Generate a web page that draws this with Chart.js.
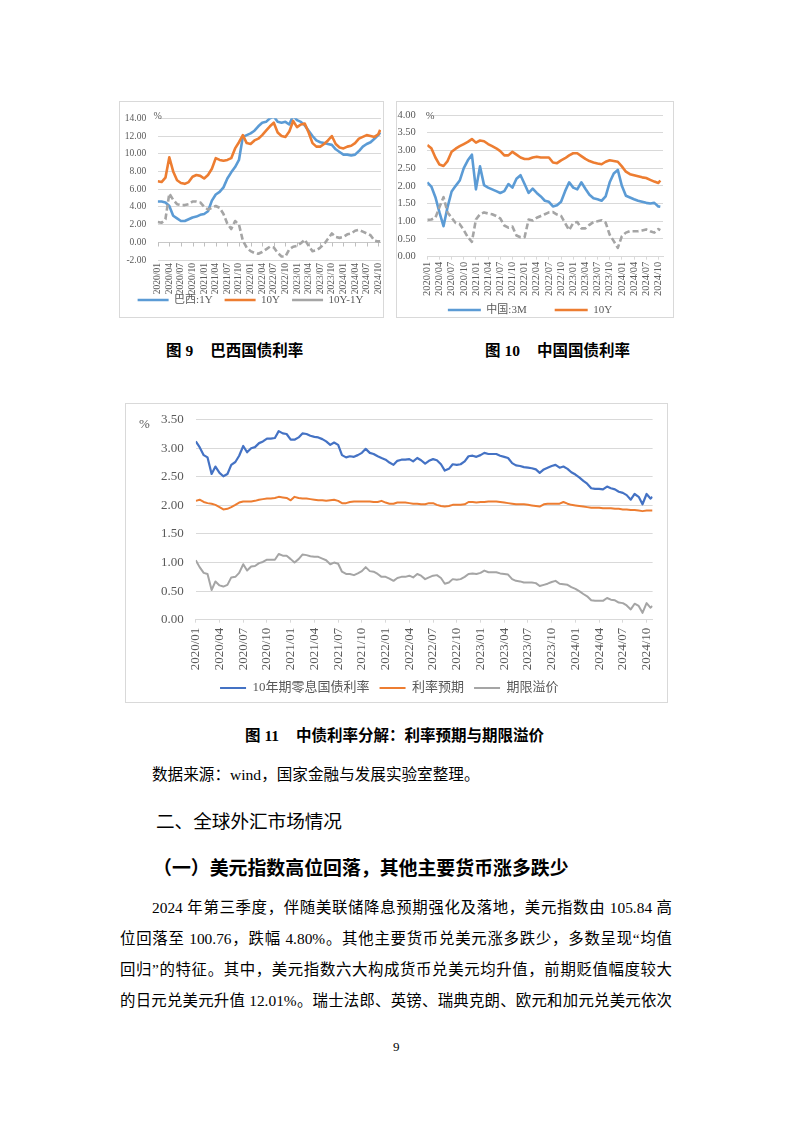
<!DOCTYPE html>
<html lang="zh-CN">
<head>
<meta charset="utf-8">
<title>国债利率</title>
<script src="https://cdn.jsdelivr.net/npm/chart.js@4.4.1/dist/chart.umd.min.js"></script>
<style>
  body { margin: 0; background: #fff; }
  .page { position: relative; width: 794px; height: 1123px; overflow: hidden;
          font-family: 'Liberation Serif', 'Noto Sans CJK SC', serif; color: #000; }
  .frame { position: absolute; border: 1px solid #d9d9d9; box-sizing: border-box; background: #fff; }
  .frame canvas { display: block; }
  .cap { position: absolute; font-weight: bold; font-size: 15.5px; line-height: 20px; white-space: nowrap; }
  .cap span { margin-left: 17px; }
  .txt { position: absolute; white-space: nowrap; }
  .line { position: absolute; left: 120px; width: 552px; font-size: 15.4px; line-height: 20px;
          text-align: justify; text-align-last: justify; }
</style>
</head>
<body>
<div class="page">

  <div class="frame" style="left:119px;top:101px;width:265px;height:217px;">
    <canvas id="chart9" width="263" height="215"></canvas>
  </div>
  <div class="frame" style="left:396px;top:101px;width:278px;height:217px;">
    <canvas id="chart10" width="276" height="215"></canvas>
  </div>

  <div class="cap" style="left:166px;top:341px;">图 9<span>巴西国债利率</span></div>
  <div class="cap" style="left:485px;top:341px;">图 10<span>中国国债利率</span></div>

  <div class="frame" style="left:125px;top:403px;width:543px;height:300px;">
    <canvas id="chart11" width="541" height="298"></canvas>
  </div>

  <div class="cap" style="left:245px;top:726px;">图 11<span>中债利率分解：利率预期与期限溢价</span></div>

  <div class="txt" style="left:152px;top:765px;font-size:15.6px;line-height:20px;">数据来源：wind，国家金融与发展实验室整理。</div>
  <div class="txt" style="left:156px;top:808px;font-size:18.6px;line-height:24px;font-family:'Noto Sans CJK SC',sans-serif;">二、全球外汇市场情况</div>
  <div class="txt" style="left:153px;top:855px;font-size:18.9px;line-height:24px;font-weight:bold;font-family:'Noto Sans CJK SC',sans-serif;">（一）美元指数高位回落，其他主要货币涨多跌少</div>

  <div class="line" style="top:898px;text-indent:32px;">2024 年第三季度，伴随美联储降息预期强化及落地，美元指数由 105.84 高</div>
  <div class="line" style="top:929px;">位回落至 100.76，跌幅 4.80%。其他主要货币兑美元涨多跌少，多数呈现“均值</div>
  <div class="line" style="top:960px;">回归”的特征。其中，美元指数六大构成货币兑美元均升值，前期贬值幅度较大</div>
  <div class="line" style="top:991px;">的日元兑美元升值 12.01%。瑞士法郎、英镑、瑞典克朗、欧元和加元兑美元依次</div>

  <div class="txt" style="left:393px;top:1038px;font-size:13px;line-height:18px;">9</div>
</div>

<script>
// 横轴刻度（每季度一个）
const tickLabels = ['2020/01', '2020/04', '2020/07', '2020/10', '2021/01', '2021/04', '2021/07', '2021/10',
  '2022/01', '2022/04', '2022/07', '2022/10', '2023/01', '2023/04', '2023/07', '2023/10',
  '2024/01', '2024/04', '2024/07', '2024/10']

// 图9 巴西国债利率（月度取样，最后一点为2024/10中旬）
const br1y = [4.6, 4.6, 4.5, 4.1, 3.0, 2.7, 2.4, 2.4, 2.6, 2.8,
  2.9, 3.1, 3.2, 3.5, 4.7, 5.4, 5.7, 6.2, 7.2, 7.9,
  8.5, 9.3, 11.9, 12.1, 12.3, 12.6, 13.1, 13.5, 13.6, 14.0,
  14.2, 13.6, 13.5, 13.6, 13.3, 14.3, 13.8, 13.6, 13.2, 12.6,
  12.0, 11.5, 11.3, 11.2, 11.1, 11.0, 10.5, 10.2, 9.9, 9.9,
  9.8, 9.9, 10.3, 10.8, 11.1, 11.3, 11.7, 12.1, 12.4]
const br10y = [6.9, 6.8, 7.3, 9.6, 8.0, 7.0, 6.7, 6.6, 6.8, 7.4,
  7.6, 7.5, 7.2, 7.6, 8.3, 9.5, 9.3, 9.2, 9.3, 9.5,
  10.6, 11.3, 12.1, 11.2, 11.1, 11.5, 11.7, 12.1, 12.6, 13.1,
  13.5, 12.4, 12.0, 11.9, 12.5, 13.7, 13.0, 13.3, 13.4, 12.4,
  11.2, 10.8, 10.8, 11.1, 11.5, 12.0, 11.1, 10.7, 10.6, 10.8,
  10.9, 11.2, 11.7, 11.9, 12.1, 12.0, 11.9, 12.2, 12.7]
const brSpread = [2.3, 2.2, 2.6, 5.5, 4.8, 4.3, 4.2, 4.2, 4.3, 4.6,
  4.6, 4.5, 4.0, 3.7, 3.9, 4.1, 3.9, 3.2, 2.1, 1.5,
  2.4, 2.0, 0.2, -0.6, -1.0, -1.2, -1.3, -1.1, -0.8, -0.5,
  -0.6, -1.2, -1.6, -1.6, -0.8, -0.5, -0.4, -0.1, 0.3, -0.4,
  -1.0, -0.9, -0.6, -0.2, 0.4, 1.0, 0.6, 0.5, 0.6, 0.9,
  1.0, 1.3, 1.4, 1.2, 1.0, 0.8, 0.2, 0.1, 0.1]

// 图10 中国国债利率
const cn3m = [2.10, 1.98, 1.68, 1.25, 0.86, 1.40, 1.84, 2.00, 2.15, 2.50,
  2.72, 2.88, 1.90, 2.55, 2.02, 1.95, 1.90, 1.85, 1.80, 1.85,
  2.05, 1.95, 2.20, 2.30, 2.05, 1.80, 1.92, 1.80, 1.70, 1.58,
  1.55, 1.42, 1.45, 1.55, 1.85, 2.10, 1.95, 1.90, 2.10, 1.92,
  1.75, 1.65, 1.62, 1.58, 1.70, 2.10, 2.35, 2.45, 2.00, 1.72,
  1.67, 1.62, 1.58, 1.55, 1.52, 1.50, 1.52, 1.42, 1.41]
const cn10y = [3.15, 3.06, 2.80, 2.60, 2.56, 2.70, 2.96, 3.05, 3.12, 3.18,
  3.24, 3.32, 3.22, 3.28, 3.26, 3.18, 3.12, 3.06, 2.98, 2.86,
  2.86, 2.96, 2.88, 2.80, 2.76, 2.76, 2.80, 2.82, 2.80, 2.80,
  2.80, 2.66, 2.64, 2.72, 2.78, 2.86, 2.92, 2.92, 2.84, 2.76,
  2.70, 2.66, 2.63, 2.61, 2.68, 2.72, 2.70, 2.68, 2.55, 2.40,
  2.33, 2.30, 2.27, 2.24, 2.22, 2.17, 2.12, 2.08, 2.15]
const cnSpread = [1.04, 1.05, 1.10, 1.40, 1.68, 1.25, 1.10, 0.95, 0.92, 0.75,
  0.55, 0.42, 1.05, 1.20, 1.25, 1.22, 1.20, 1.15, 1.08, 0.88,
  0.82, 0.85, 0.60, 0.55, 0.55, 1.05, 1.02, 1.10, 1.15, 1.20,
  1.25, 1.26, 1.19, 1.15, 0.95, 0.75, 0.95, 0.98, 0.80, 0.80,
  0.90, 0.98, 1.00, 1.03, 0.96, 0.62, 0.44, 0.25, 0.58, 0.68,
  0.72, 0.72, 0.72, 0.74, 0.77, 0.72, 0.68, 0.78, 0.75]

// 图11 中债利率分解（半月取样，最后一点为2024/10下旬）
const zeroRate10y = [3.12, 3.02, 2.88, 2.84, 2.55, 2.68, 2.57, 2.51, 2.55, 2.71,
  2.76, 2.87, 3.04, 2.93, 3.00, 3.02, 3.09, 3.12, 3.17, 3.17,
  3.18, 3.30, 3.26, 3.25, 3.15, 3.15, 3.19, 3.26, 3.25, 3.22,
  3.20, 3.19, 3.16, 3.12, 3.06, 3.10, 3.06, 2.88, 2.84, 2.86,
  2.85, 2.88, 2.92, 2.99, 2.92, 2.90, 2.86, 2.83, 2.80, 2.75,
  2.71, 2.78, 2.80, 2.80, 2.81, 2.77, 2.83, 2.79, 2.73, 2.78,
  2.81, 2.79, 2.72, 2.61, 2.64, 2.72, 2.71, 2.72, 2.77, 2.86,
  2.87, 2.85, 2.88, 2.92, 2.90, 2.90, 2.90, 2.87, 2.85, 2.83,
  2.74, 2.70, 2.69, 2.67, 2.66, 2.65, 2.63, 2.57, 2.63, 2.66,
  2.69, 2.71, 2.66, 2.68, 2.64, 2.58, 2.54, 2.49, 2.43, 2.38,
  2.30, 2.29, 2.29, 2.28, 2.33, 2.30, 2.28, 2.24, 2.22, 2.18,
  2.10, 2.20, 2.15, 2.02, 2.20, 2.12, 2.15]
const rateExpect = [2.08, 2.10, 2.06, 2.04, 2.03, 2.01, 1.97, 1.93, 1.94, 1.97,
  2.01, 2.05, 2.07, 2.07, 2.07, 2.08, 2.10, 2.11, 2.12, 2.12,
  2.13, 2.15, 2.14, 2.13, 2.09, 2.15, 2.13, 2.12, 2.12, 2.11,
  2.10, 2.09, 2.09, 2.08, 2.09, 2.10, 2.08, 2.04, 2.04, 2.06,
  2.07, 2.07, 2.07, 2.07, 2.07, 2.06, 2.06, 2.08, 2.05, 2.03,
  2.03, 2.05, 2.05, 2.05, 2.04, 2.03, 2.03, 2.02, 2.02, 2.04,
  2.04, 2.01, 1.99, 1.98, 1.99, 2.01, 2.01, 2.01, 2.02, 2.06,
  2.06, 2.05, 2.06, 2.06, 2.07, 2.07, 2.07, 2.06, 2.05, 2.04,
  2.03, 2.02, 2.02, 2.02, 2.01, 2.00, 1.99, 1.98, 2.02, 2.03,
  2.03, 2.03, 2.03, 2.06, 2.03, 2.01, 2.00, 1.99, 1.98, 1.97,
  1.96, 1.96, 1.96, 1.95, 1.95, 1.95, 1.94, 1.94, 1.93, 1.93,
  1.92, 1.92, 1.91, 1.90, 1.91, 1.91, 1.91]
const termPremium = [1.04, 0.92, 0.82, 0.80, 0.52, 0.67, 0.60, 0.58, 0.61, 0.74,
  0.75, 0.82, 0.97, 0.86, 0.93, 0.94, 0.99, 1.01, 1.05, 1.05,
  1.05, 1.15, 1.12, 1.12, 1.06, 1.00, 1.06, 1.14, 1.13, 1.11,
  1.10, 1.10, 1.07, 1.04, 0.97, 1.00, 0.98, 0.84, 0.80, 0.80,
  0.78, 0.81, 0.85, 0.92, 0.85, 0.84, 0.80, 0.75, 0.75, 0.72,
  0.68, 0.73, 0.75, 0.75, 0.77, 0.74, 0.80, 0.77, 0.71, 0.74,
  0.77, 0.78, 0.73, 0.63, 0.65, 0.71, 0.70, 0.71, 0.75, 0.80,
  0.81, 0.80, 0.82, 0.86, 0.83, 0.83, 0.83, 0.81, 0.80, 0.79,
  0.71, 0.68, 0.67, 0.65, 0.65, 0.65, 0.64, 0.59, 0.61, 0.63,
  0.66, 0.68, 0.63, 0.62, 0.61, 0.57, 0.54, 0.50, 0.45, 0.41,
  0.34, 0.33, 0.33, 0.33, 0.38, 0.35, 0.34, 0.30, 0.29, 0.25,
  0.18, 0.28, 0.24, 0.12, 0.29, 0.21, 0.24]

const FONT = "'Liberation Serif', 'Noto Sans CJK SC', serif"
const GRID = '#d9d9d9'
const TEXT = '#595959'

// 日期 -> 距2020年1月的月数
function toMonth(d) {
  const [y, m, day] = d.split('-').map(Number)
  return (y - 2020) * 12 + (m - 1) + (day - 1) / 31
}
const tickMonths = tickLabels.map(t => {
  const [y, m] = t.split('/').map(Number)
  return (y - 2020) * 12 + m - 1
})

// 取样日期
function monthStarts(n) {
  const out = []
  for (let i = 0; i < n; i++) {
    const y = 2020 + Math.floor(i / 12)
    const m = String(i % 12 + 1).padStart(2, '0')
    out.push(`${y}-${m}-01`)
  }
  return out
}
const datesMonthly = monthStarts(58).concat(['2024-10-16'])
const datesHalf = []
monthStarts(58).forEach(d => datesHalf.push(d, d.slice(0, 8) + '16'))
datesHalf.push('2024-10-24')

function pts(dates, values) {
  return values.map((v, i) => ({ x: toMonth(dates[i]), y: v }))
}

// "%" 单位
const unitLabel = {
  id: 'unitLabel',
  afterDraw(chart, args, opts) {
    if (!opts.text) return
    const { ctx, chartArea } = chart
    ctx.save()
    ctx.font = `${opts.size}px ${FONT}`
    ctx.fillStyle = TEXT
    ctx.textAlign = 'center'
    ctx.textBaseline = 'middle'
    ctx.fillText(opts.text, chartArea.left + opts.dx, chartArea.top + opts.dy)
    ctx.restore()
  }
}

// 横轴在0值处的刻度线（巴西图）
const zeroTicks = {
  id: 'zeroTicks',
  beforeDatasetsDraw(chart, args, opts) {
    if (!opts.show) return
    const { ctx, scales: { x, y } } = chart
    const y0 = Math.round(y.getPixelForValue(0)) + 0.5
    ctx.save()
    ctx.strokeStyle = '#bfbfbf'
    ctx.lineWidth = 1
    tickMonths.forEach(m => {
      const px = Math.round(x.getPixelForValue(m)) + 0.5
      ctx.beginPath()
      ctx.moveTo(px, y0)
      ctx.lineTo(px, y0 + 4)
      ctx.stroke()
    })
    ctx.restore()
  }
}

// 横轴标签不裁切（轴高度压小后标签会伸进图例区）
const noLabelClip = {
  id: 'noLabelClip',
  afterLayout(chart) {
    chart.scales.x._computeLabelArea = () => undefined
  }
}

function buildChart(id, conf) {
  return new Chart(document.getElementById(id), {
    type: 'line',
    data: { datasets: conf.datasets },
    options: {
      responsive: false,
      animation: false,
      devicePixelRatio: 1,
      events: [],
      layout: { padding: conf.padding },
      elements: { point: { radius: 0 }, line: { tension: 0, borderJoinStyle: 'round' } },
      plugins: {
        tooltip: { enabled: false },
        legend: {
          position: 'bottom',
          labels: {
            usePointStyle: true,
            pointStyle: 'line',
            pointStyleWidth: conf.legend.boxWidth,
            padding: conf.legend.padding,
            color: TEXT,
            font: { family: FONT, size: conf.legend.size },
            filter: item => !(conf.legend.hide || []).includes(item.text),
            sort: (a, b) => a.datasetIndex - b.datasetIndex
          }
        },
        unitLabel: conf.unit,
        zeroTicks: { show: !!conf.zeroTicks }
      },
      scales: {
        x: {
          type: 'linear',
          min: 0,
          max: conf.xMax,
          afterBuildTicks: s => { s.ticks = tickMonths.map(v => ({ value: v })) },
          afterFit: s => { s.height = conf.xHeight; s.paddingLeft = 0; s.paddingRight = 0 },
          ticks: {
            autoSkip: false, minRotation: 90, maxRotation: 90,
            padding: conf.xPad, color: TEXT,
            font: { family: FONT, size: conf.tickSize },
            callback: (v, i) => tickLabels[i]
          },
          grid: conf.xTicks
            ? { drawOnChartArea: false, drawTicks: true, tickLength: 3, color: GRID }
            : { display: false, drawTicks: false },
          border: { display: !!conf.xTicks, color: GRID }
        },
        y: {
          min: conf.yMin,
          max: conf.yMax,
          afterFit: s => { s.width = conf.yWidth; s.paddingTop = 0; s.paddingBottom = 0 },
          ticks: {
            stepSize: conf.yStep, padding: conf.yPad, color: TEXT,
            font: { family: FONT, size: conf.tickSize },
            callback: v => v.toFixed(2)
          },
          grid: {
            color: c => (conf.zeroTicks && c.tick && c.tick.value === 0) ? '#c8c8c8' : GRID,
            drawTicks: false
          },
          border: { display: false }
        }
      }
    },
    plugins: [unitLabel, zeroTicks, noLabelClip]
  })
}

const BLUE = '#5b9bd5'
const ORANGE = '#ed7d31'
const GRAY = '#a5a5a5'

// 图9
buildChart('chart9', {
  datasets: [
    { label: '巴西:1Y', data: pts(datesMonthly, br1y), borderColor: BLUE, borderWidth: 2.6, order: 3 },
    { label: '10Y', data: pts(datesMonthly, br10y), borderColor: ORANGE, borderWidth: 2.6, order: 2 },
    { label: '10Y-1Y', data: pts(datesMonthly, brSpread), borderColor: GRAY, borderWidth: 2.6, borderDash: [6, 3], order: 1 }
  ],
  padding: { top: 16.3, right: 2, bottom: 1.5, left: 0 },
  xMax: 57.7, xHeight: 22.5, xPad: 3, xTicks: false, zeroTicks: true,
  yMin: -2, yMax: 14, yStep: 2, yWidth: 37.7, yPad: 11.5,
  tickSize: 9.5,
  legend: { boxWidth: 31, padding: 12, size: 11 },
  unit: { text: '%', size: 10, dx: 0, dy: -1.6 }
})

// 图10
buildChart('chart10', {
  datasets: [
    { label: '中国:3M', data: pts(datesMonthly, cn3m), borderColor: BLUE, borderWidth: 2.6, order: 3 },
    { label: '10Y', data: pts(datesMonthly, cn10y), borderColor: ORANGE, borderWidth: 2.6, order: 2 },
    { label: '10Y-3M', data: pts(datesMonthly, cnSpread), borderColor: GRAY, borderWidth: 2.6, borderDash: [6, 3], order: 1 }
  ],
  padding: { top: 13, right: 10, bottom: -8.5, left: 0 },
  xMax: 58.15, xHeight: 19.8, xPad: 2, xTicks: true,
  yMin: 0, yMax: 4, yStep: 0.5, yWidth: 30.3, yPad: 11.5,
  tickSize: 10.5,
  legend: { boxWidth: 33, padding: 28, size: 11, hide: ['10Y-3M'] },
  unit: { text: '%', size: 10.5, dx: 2.7, dy: 1.7 }
})

// 图11
buildChart('chart11', {
  datasets: [
    { label: '10年期零息国债利率', data: pts(datesHalf, zeroRate10y), borderColor: '#4472c4', borderWidth: 2.2, order: 3 },
    { label: '利率预期', data: pts(datesHalf, rateExpect), borderColor: ORANGE, borderWidth: 2, order: 2 },
    { label: '期限溢价', data: pts(datesHalf, termPremium), borderColor: GRAY, borderWidth: 2, order: 1 }
  ],
  padding: { top: 15.7, right: 14.4, bottom: -2.5, left: 0 },
  xMax: 57.76, xHeight: 51.8, xPad: 5, xTicks: true,
  yMin: 0, yMax: 3.5, yStep: 0.5, yWidth: 69.8, yPad: 12,
  tickSize: 13,
  legend: { boxWidth: 26, padding: 10, size: 13 },
  unit: { text: '%', size: 13, dx: -51.3, dy: 5 }
})
</script>
</body>
</html>
